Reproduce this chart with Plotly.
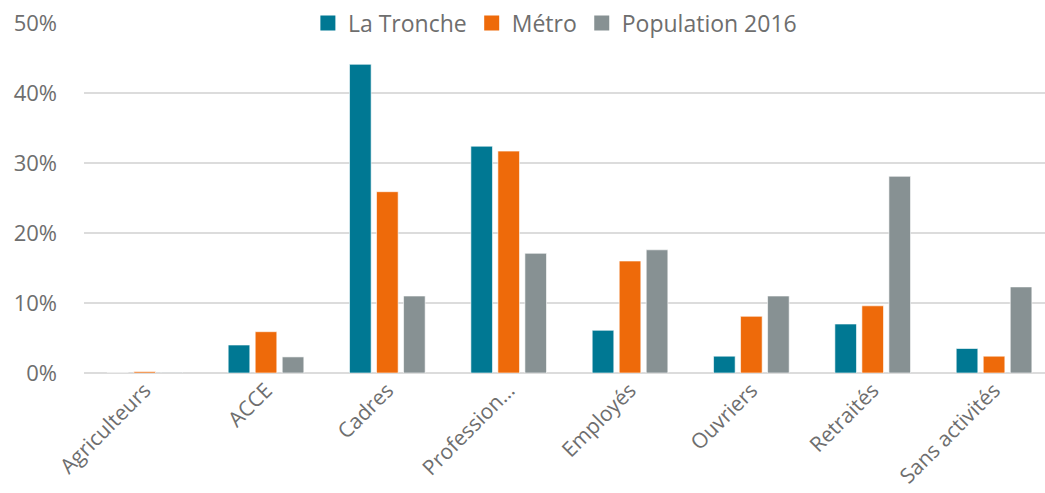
import plotly.graph_objects as go

# Catégories socio-professionnelles
categories = ["Agriculteurs", "ACCE", "Cadres", "Profession…", "Employés",
              "Ouvriers", "Retraités", "Sans activités"]

# Parts en pourcentage
la_tronche = [0.0, 4.0, 44.1, 32.4, 6.1, 2.4, 7.0, 3.5]
metro = [0.2, 5.9, 25.9, 31.7, 16.0, 8.1, 9.6, 2.4]
population_2016 = [0.1, 2.3, 11.0, 17.1, 17.6, 11.0, 28.1, 12.3]

series = [
    ("La Tronche", la_tronche, "#007893"),
    ("Métro", metro, "#EE6A0A"),
    ("Population 2016", population_2016, "#879193"),
]

text_color = "#6E6E6E"
font_family = "Open Sans, Noto Sans, sans-serif"

fig = go.Figure()
for name, values, color in series:
    fig.add_trace(go.Bar(
        x=categories,
        y=values,
        name=name,
        showlegend=False,
        marker=dict(color=color, line=dict(color="rgba(255,255,255,0.6)", width=1)),
    ))

# Legend entries with larger square swatches
for name, values, color in series:
    fig.add_trace(go.Scatter(
        x=[None],
        y=[None],
        mode="markers",
        name=name,
        marker=dict(symbol="square", size=15, color=color),
        hoverinfo="skip",
    ))

fig.update_layout(
    width=1045,
    height=493,
    margin=dict(l=84, r=0, t=23, b=120),
    paper_bgcolor="white",
    plot_bgcolor="white",
    barmode="group",
    bargap=0.332,
    bargroupgap=0.2,
    font=dict(family=font_family, color=text_color, size=22),
    legend=dict(
        orientation="h",
        x=0.49,
        xanchor="center",
        y=1.0,
        yanchor="middle",
        bgcolor="white",
        font=dict(size=23, color=text_color),
        itemwidth=30,
    ),
    xaxis=dict(
        range=[-0.5, 7.42],
        tickangle=-45,
        tickfont=dict(size=21, color=text_color),
        showgrid=False,
        showline=False,
        zeroline=False,
        ticks="",
    ),
    yaxis=dict(
        range=[0, 50],
        dtick=10,
        ticksuffix="%",
        tickfont=dict(size=22, color=text_color),
        showgrid=True,
        gridcolor="#DCDCDC",
        gridwidth=2,
        zeroline=True,
        zerolinecolor="#DCDCDC",
        zerolinewidth=2,
        ticklabelstandoff=26,
        ticks="",
    ),
)

fig.write_html("out.html")
